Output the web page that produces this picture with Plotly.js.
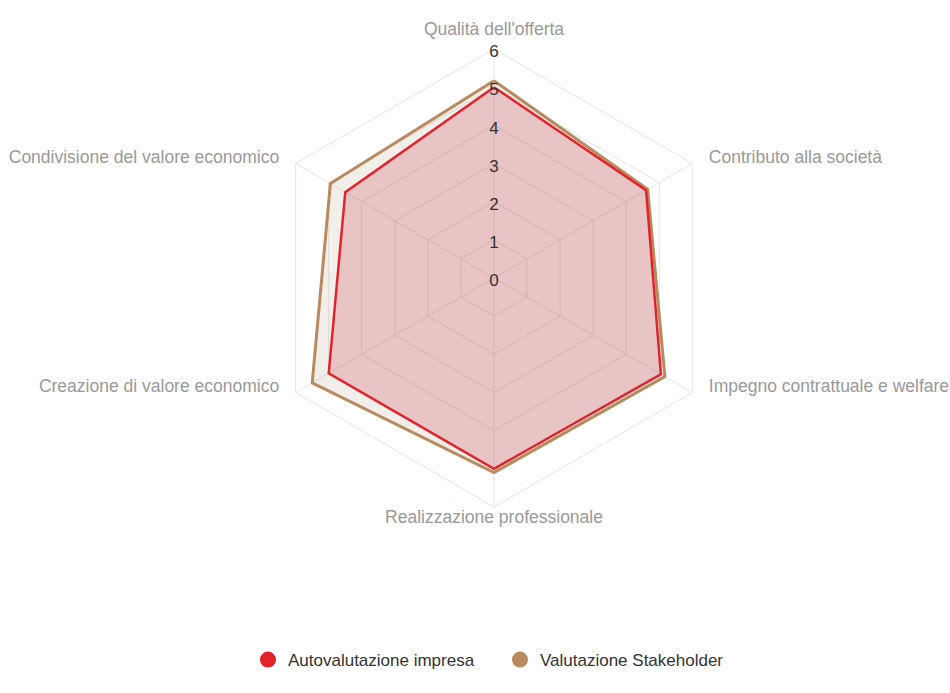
<!DOCTYPE html>
<html>
<head>
<meta charset="utf-8">
<script src="https://cdn.plot.ly/plotly-3.0.1.min.js"></script>
<style>
html,body{margin:0;padding:0;background:#fff;}
#chart{width:950px;height:693px;}
</style>
</head>
<body>
<div id="chart"></div>
<script>
const categories = [
  "Qualità dell'offerta",
  "Contributo alla società",
  "Impegno contrattuale e welfare",
  "Realizzazione professionale",
  "Creazione di valore economico",
  "Condivisione del valore economico"
];
const autovalutazione = [5.0, 4.6, 5.05, 5.0, 5.0, 4.5];
const stakeholder = [5.17, 4.65, 5.17, 5.1, 5.5, 4.95];
const seriesNames = ["Autovalutazione impresa", "Valutazione Stakeholder"];
const radialTicks = [0, 1, 2, 3, 4, 5, 6];
const radialTickLabels = ["0", "1", "2", "3", "4", "5", "6"];

const RED = "#e3232b";
const BROWN = "#b98a5e";
const FONT = "Liberation Sans, Arial, Helvetica, sans-serif";
const RMAX = radialTicks[radialTicks.length - 1];

// label placement styles (one per category, clockwise from top)
const labelPositions = ["top center", "middle right", "middle right", "bottom center", "middle left", "middle left"];
const labelOffsets = [5.6, 24.8, 24.8, 11.2, 24.8, 24.8];

function closed(arr){ return arr.concat([arr[0]]); }

const traces = [
  {
    type: "scatterpolar",
    r: closed(stakeholder),
    theta: closed(categories),
    mode: "lines",
    fill: "toself",
    fillcolor: "rgba(170,140,110,0.15)",
    line: {color: BROWN, width: 3},
    showlegend: false,
    hoverinfo: "skip"
  },
  {
    type: "scatterpolar",
    r: closed(autovalutazione),
    theta: closed(categories),
    mode: "lines",
    fill: "toself",
    fillcolor: "rgba(200,50,70,0.22)",
    line: {color: RED, width: 2.5},
    showlegend: false,
    hoverinfo: "skip"
  },
  // radial tick labels (overlaid invisible circular polar subplot, same scale)
  {
    type: "scatterpolar",
    subplot: "polar2",
    r: radialTicks,
    theta: radialTicks.map(() => categories[0]),
    mode: "text",
    text: radialTickLabels,
    textfont: {family: FONT, size: 17, color: "#333"},
    textposition: "middle center",
    cliponaxis: false,
    showlegend: false,
    hoverinfo: "skip"
  },
  // category labels (overlaid invisible polar subplot, same scale)
  {
    type: "scatterpolar",
    subplot: "polar3",
    r: categories.map(() => RMAX),
    theta: categories,
    mode: "markers+text",
    text: categories,
    marker: {size: labelOffsets, opacity: 0, color: "#fff"},
    textfont: {family: FONT, size: 17.5, color: "#999"},
    textposition: labelPositions,
    cliponaxis: false,
    showlegend: false,
    hoverinfo: "skip"
  },
  {
    type: "scatterpolar",
    r: [null],
    theta: [null],
    mode: "markers",
    name: seriesNames[0],
    marker: {color: RED, size: 18, symbol: "circle"},
    showlegend: true
  },
  {
    type: "scatterpolar",
    r: [null],
    theta: [null],
    mode: "markers",
    name: seriesNames[1],
    marker: {color: BROWN, size: 18, symbol: "circle"},
    showlegend: true
  }
];

const H = 693, W = 950;
const DOMAIN = {x: [265/W, 723/W], y: [(H-507)/H, (H-49)/H]};
const DOMAIN_TICKS = {x: [265/W, 723/W], y: [(H-511)/H, (H-53)/H]};
const DOMAIN_LABELS = {x: [265/W, 723/W], y: [(H-502)/H, (H-44)/H]};

const hiddenAxes = {
  bgcolor: "rgba(0,0,0,0)",
  radialaxis: {range: [0, RMAX], visible: false, showgrid: false, showline: false, showticklabels: false, ticks: ""},
  angularaxis: {rotation: 90, direction: "clockwise", visible: false, showgrid: false, showline: false, showticklabels: false, ticks: ""}
};

const layout = {
  width: W,
  height: H,
  margin: {l: 0, r: 0, t: 0, b: 0},
  paper_bgcolor: "#fff",
  font: {family: FONT, color: "#999"},
  showlegend: true,
  legend: {
    orientation: "h",
    x: 0.5263, xanchor: "center",
    y: 0.0476, yanchor: "middle",
    font: {size: 17, color: "#333"},
    itemsizing: "trace",
    itemwidth: 30,
    entrywidth: 207,
    entrywidthmode: "pixels"
  },
  polar: {
    domain: DOMAIN,
    bgcolor: "rgba(0,0,0,0)",
    gridshape: "linear",
    radialaxis: {
      range: [0, RMAX],
      tickvals: radialTicks,
      showticklabels: false,
      ticks: "",
      showline: false,
      gridcolor: "#e4e4e4",
      gridwidth: 1,
      angle: 90
    },
    angularaxis: {
      rotation: 90,
      direction: "clockwise",
      showticklabels: false,
      ticks: "",
      showline: true,
      linecolor: "#e4e4e4",
      gridcolor: "#e4e4e4"
    }
  },
  polar2: Object.assign({domain: DOMAIN_TICKS}, JSON.parse(JSON.stringify(hiddenAxes))),
  polar3: Object.assign({domain: DOMAIN_LABELS}, JSON.parse(JSON.stringify(hiddenAxes)))
};

Plotly.newPlot("chart", traces, layout, {displayModeBar: false, staticPlot: true});
</script>
</body>
</html>
